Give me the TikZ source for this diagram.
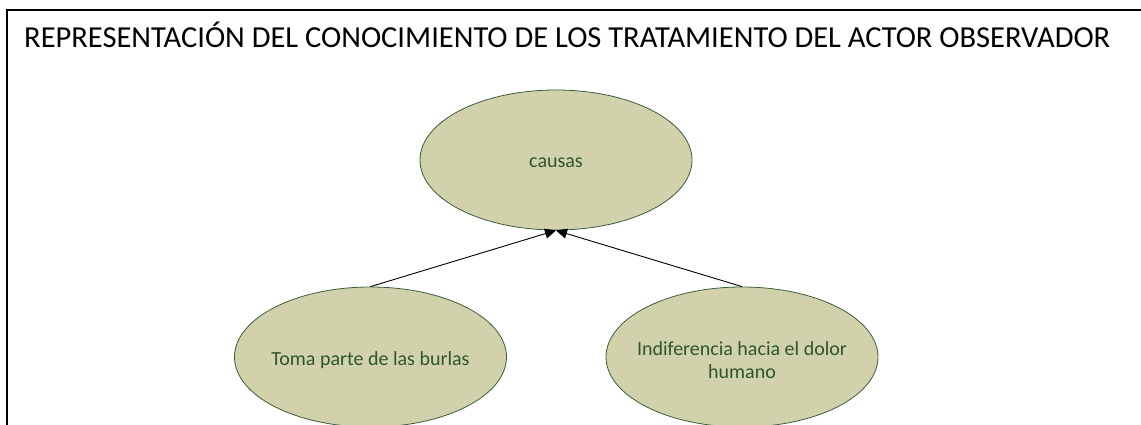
\documentclass[tikz,border=0pt]{standalone}
\usepackage{fontspec}
\setmainfont{Carlito}
\usetikzlibrary{shapes.geometric,arrows.meta}
\definecolor{ellfill}{HTML}{D1D2AB}
\definecolor{elldraw}{HTML}{3B5E3B}
\definecolor{elltext}{HTML}{2E5530}
\tikzset{
  bubble/.style={ellipse, draw=elldraw, line width=0.8pt, fill=ellfill, minimum width=272pt, minimum height=140pt, inner sep=0pt},
  btext/.style={text=elltext, font=\fontsize{20}{23.5}\selectfont, align=center, inner sep=0pt, yshift=-3pt},
  link/.style={line width=0.9pt, -{Triangle[length=11pt,width=10pt]}},
  frame/.style={line width=2pt}
}
\begin{document}
\begin{tikzpicture}[x=1pt,y=-1pt]
\useasboundingbox (0,0) rectangle (1141,425);
\coordinate (tl) at (6.5,10);
\coordinate (tr) at (1141,10);
\coordinate (bl) at (6.5,425);
\draw[frame] (bl) -- (tl) -- (tr);
\node[anchor=base west, font=\fontsize{30.5}{34}\selectfont, inner sep=0pt] (title) at (24,48) {REPRESENTACIÓN DEL CONOCIMIENTO DE LOS TRATAMIENTO DEL ACTOR OBSERVADOR};
\node[bubble, label={[btext]center:causas}] (c) at (556,160) {};
\node[bubble, label={[btext]center:Toma parte de las burlas}] (l) at (370.5,357) {};
\node[bubble, label={[btext]center:{Indiferencia hacia el dolor\\humano}}] (r) at (742,357) {};
\draw[link] (l.north) -- (c.south);
\draw[link] (r.north) -- (c.south);
\end{tikzpicture}
\end{document}
